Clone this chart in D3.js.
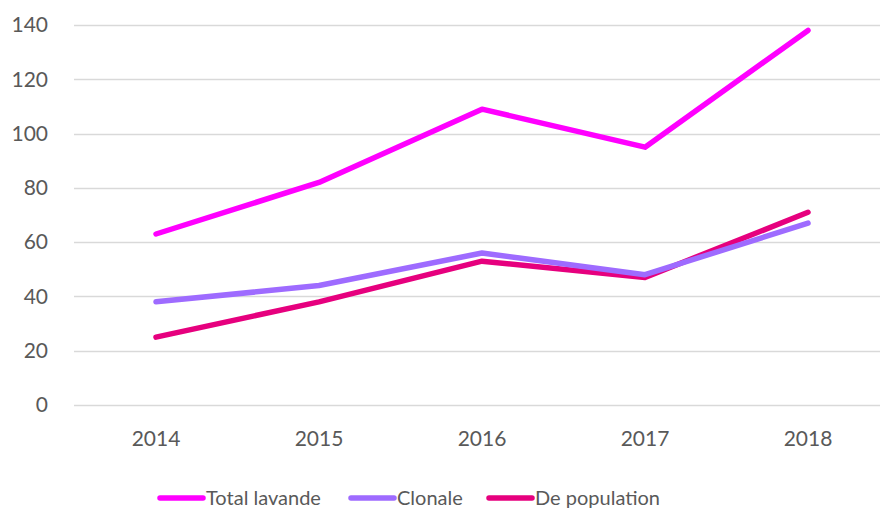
<!DOCTYPE html>
<html>
<head>
<meta charset="utf-8">
<script src="https://cdn.jsdelivr.net/npm/d3@7"></script>
<style>
  body { margin: 0; background: #fff; }
  text { font-family: Lato, "Open Sans", sans-serif; fill: #595959; }
</style>
</head>
<body>
<svg id="chart" width="880" height="511"></svg>
<script>
var years = ['2014', '2015', '2016', '2017', '2018'];
var totalLavande = [63, 82, 109, 95, 138];
var clonale = [38, 44, 56, 48, 67];
var dePopulation = [25, 38, 53, 47, 71];
var yTicks = [0, 20, 40, 60, 80, 100, 120, 140];

var series = [
  {name: 'Total lavande', values: totalLavande, color: '#ff00ff'},
  {name: 'Clonale', values: clonale, color: '#9e6bff'},
  {name: 'De population', values: dePopulation, color: '#e6007e'}
];

var margin = {top: 25, right: 0, bottom: 106, left: 74}
  , width = 880
  , height = 511
  , fontSize = 21
  ;

var svg = d3.select('#chart');

var x = d3.scaleBand()
    .domain(years)
    .range([margin.left + 0.5, margin.left + 0.5 + 5 * 163]);

var y = d3.scaleLinear()
    .domain([0, 140])
    .range([height - margin.bottom, margin.top]);

// gridlines
svg.append('g')
  .selectAll('line')
    .data(yTicks)
  .enter().append('line')
    .attr('x1', margin.left)
    .attr('x2', width)
    .attr('y1', function (d) { return Math.round(y(d)) + 0.5; })
    .attr('y2', function (d) { return Math.round(y(d)) + 0.5; })
    .attr('stroke', '#d9d9d9')
    .attr('stroke-width', 1.5);

// y labels
var yAxis = svg.append('g')
    .attr('transform', 'translate(' + (margin.left - 26) + ',0)')
    .call(d3.axisLeft(y).tickValues(yTicks).tickSize(0).tickPadding(0));
yAxis.select('.domain').remove();
yAxis.selectAll('text')
    .style('font-size', fontSize + 'px')
    .style('fill', '#595959')
    .style('font-family', 'Lato, sans-serif');

// x labels
var xAxis = svg.append('g')
    .attr('transform', 'translate(0,' + (y(0) + 26) + ')')
    .call(d3.axisBottom(x).tickSize(0).tickPadding(0));
xAxis.select('.domain').remove();
xAxis.selectAll('text')
    .attr('dy', '0.71em')
    .style('font-size', fontSize + 'px')
    .style('fill', '#595959')
    .style('font-family', 'Lato, sans-serif');

var line = d3.line()
    .x(function (d, i) { return x(years[i]) + x.bandwidth() / 2; })
    .y(function (d) { return y(d); });

svg.append('g')
  .selectAll('path')
    .data(series.slice().reverse())
  .enter().append('path')
    .attr('d', function (d) { return line(d.values); })
    .attr('fill', 'none')
    .attr('stroke', function (d) { return d.color; })
    .attr('stroke-width', 5.5)
    .attr('stroke-linecap', 'round')
    .attr('stroke-linejoin', 'round');

// legend
var legendX = [160, 351, 489];
var legend = svg.append('g')
  .selectAll('g')
    .data(series)
  .enter().append('g')
    .attr('transform', function (d, i) { return 'translate(' + legendX[i] + ',498)'; });

legend.append('line')
    .attr('x1', 0)
    .attr('x2', 43)
    .attr('stroke', function (d) { return d.color; })
    .attr('stroke-width', 5.5)
    .attr('stroke-linecap', 'round');

legend.append('text')
    .attr('x', 46)
    .attr('dy', '0.35em')
    .style('font-size', '20px')
    .text(function (d) { return d.name; });
</script>
</body>
</html>
